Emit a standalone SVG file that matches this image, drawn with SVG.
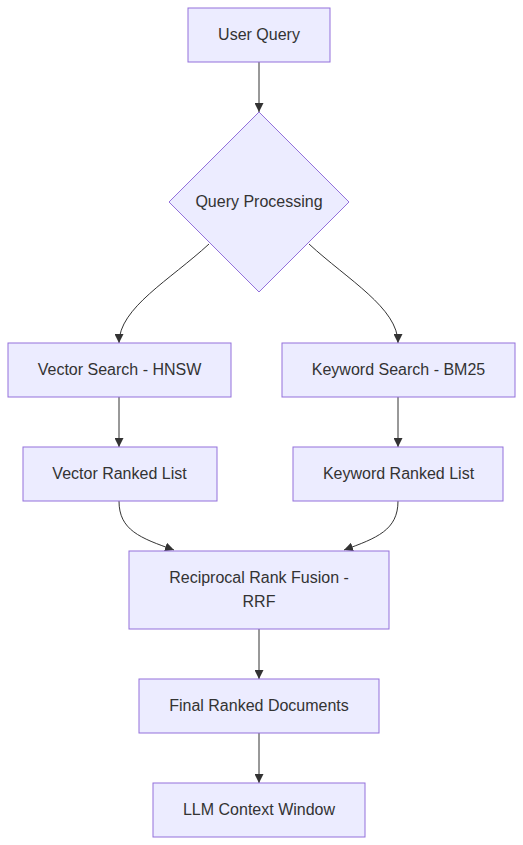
<svg xmlns="http://www.w3.org/2000/svg" width="523" height="845" viewBox="0 0 523 845">
<style>
.node rect, .node polygon { fill: #ECECFF; stroke: #9370DB; stroke-width: 1; }
.node text { font-family: "Liberation Sans", Arial, sans-serif; font-size: 16px; fill: #333333; text-anchor: middle; dominant-baseline: central; }
.edge { fill: none; stroke: #333333; stroke-width: 1; marker-end: url(#arrow); }
</style>
<defs>
<marker id="arrow" viewBox="0 0 10 10" refX="10" refY="5" markerWidth="9" markerHeight="9" markerUnits="userSpaceOnUse" orient="auto">
<path d="M0,0 L10,5 L0,10 z" fill="#333333"/>
</marker>
</defs>
<rect width="523" height="845" fill="#ffffff"/>
<g id="edges">
<path class="edge" d="M259,62 L259,112"/>
<path class="edge" d="M209,244 C170,280 119,308 119,343"/>
<path class="edge" d="M309,244 C348,280 398,308 398,343"/>
<path class="edge" d="M119,397 L119,447"/>
<path class="edge" d="M398,397 L398,447"/>
<path class="edge" d="M119,501 C119,530 140,538 174,550"/>
<path class="edge" d="M398,501 C398,530 377,538 344,550"/>
<path class="edge" d="M259,629 L259,679"/>
<path class="edge" d="M259,733 L259,783"/>
</g>
<g id="userQuery" class="node"><rect x="188" y="8" width="142" height="54"/><text x="259" y="34">User Query</text></g>
<g id="queryProcessing" class="node"><polygon points="259,112 349,202 259,292 169,202"/><text x="259" y="201">Query Processing</text></g>
<g id="vectorSearch" class="node"><rect x="8" y="343" width="223" height="54"/><text x="119.5" y="369">Vector Search - HNSW</text></g>
<g id="keywordSearch" class="node"><rect x="282" y="343" width="233" height="54"/><text x="398.5" y="369">Keyword Search - BM25</text></g>
<g id="vectorRanked" class="node"><rect x="23" y="447" width="194" height="54"/><text x="119.5" y="473">Vector Ranked List</text></g>
<g id="keywordRanked" class="node"><rect x="293" y="447" width="210" height="54"/><text x="398.5" y="473">Keyword Ranked List</text></g>
<g id="rrf" class="node"><rect x="129" y="551" width="260" height="78"/><text x="259" y="577">Reciprocal Rank Fusion -</text><text x="259" y="601">RRF</text></g>
<g id="finalRanked" class="node"><rect x="139" y="679" width="240" height="54"/><text x="259" y="705">Final Ranked Documents</text></g>
<g id="llmContext" class="node"><rect x="153" y="783" width="212" height="54"/><text x="259" y="809">LLM Context Window</text></g>
</svg>
